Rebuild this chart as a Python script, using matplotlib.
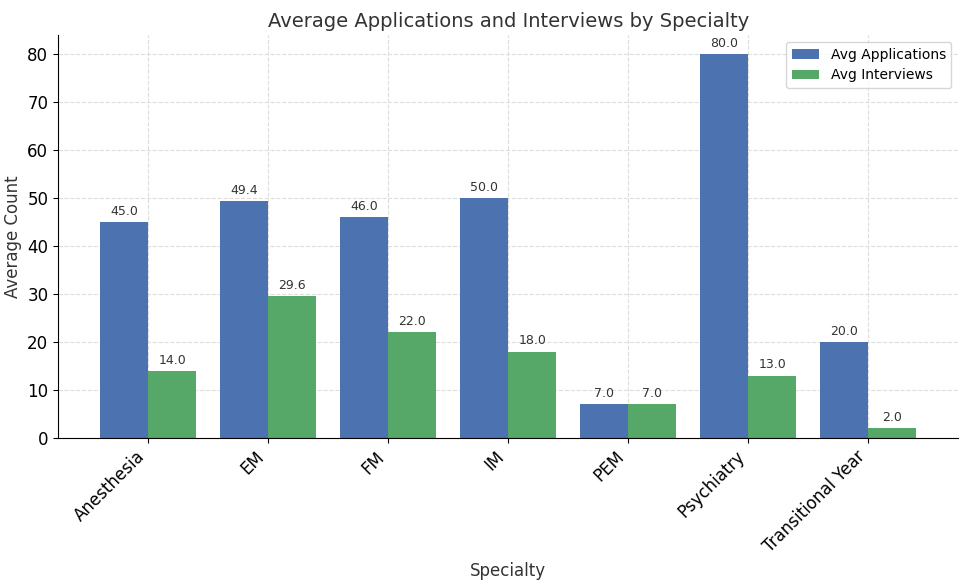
import numpy as np
import matplotlib.pyplot as plt

specialties = ['Anesthesia', 'EM', 'FM', 'IM', 'PEM', 'Psychiatry', 'Transitional Year']
avg_applications = [45.0, 49.4, 46.0, 50.0, 7.0, 80.0, 20.0]
avg_interviews = [14.0, 29.6, 22.0, 18.0, 7.0, 13.0, 2.0]

x = np.arange(len(specialties))
w = 0.4

fig, ax = plt.subplots(figsize=(9.68, 5.84), dpi=100)
fig.subplots_adjust(left=0.06, right=0.99, top=0.94, bottom=0.25)

b1 = ax.bar(x - w / 2, avg_applications, w, color='#4c72b0', label='Avg Applications')
b2 = ax.bar(x + w / 2, avg_interviews, w, color='#55a868', label='Avg Interviews')

for bars in (b1, b2):
    for b in bars:
        ax.annotate(f'{b.get_height():.1f}', (b.get_x() + b.get_width() / 2, b.get_height()),
                    xytext=(0, 3), textcoords='offset points', ha='center', va='bottom',
                    fontsize=9, color='#333333')

ax.set_title('Average Applications and Interviews by Specialty', fontsize=14, color='#333333')
ax.set_xlabel('Specialty', fontsize=12, color='#333333')
ax.set_ylabel('Average Count', fontsize=12, color='#333333')
ax.set_xticks(x)
ax.set_xticklabels(specialties, rotation=45, ha='right', fontsize=12)
ax.tick_params(axis='y', labelsize=12)
ax.set_xlim(-0.75, 6.75)
ax.set_ylim(0, 84)
ax.grid(True, linestyle='--', color='#dddddd', linewidth=0.8)
ax.set_axisbelow(True)
ax.spines['top'].set_visible(False)
ax.spines['right'].set_visible(False)
ax.legend(loc='upper right', fontsize=10)

plt.savefig('out.png')
